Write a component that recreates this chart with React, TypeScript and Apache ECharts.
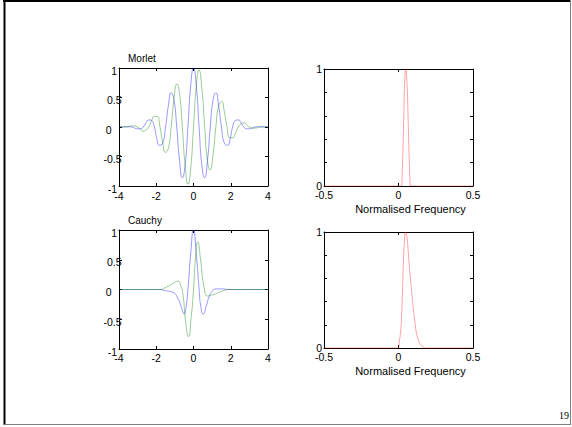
import React, { useEffect, useRef } from "react";
import * as echarts from "echarts";

// ---- Morlet wavelet (time domain) ----
const morletX = [-4, -3.6, -3.3, -3.15, -3.03, -2.85, -2.7, -2.55, -2.41, -2.25, -2.1, -1.98, -1.83, -1.65, -1.5, -1.35, -1.2, -1.05, -0.9, -0.75, -0.6, -0.45, -0.3, -0.15, 0, 0.15, 0.3, 0.45, 0.6, 0.75, 0.9, 1.05, 1.2, 1.35, 1.5, 1.65, 1.83, 1.98, 2.1, 2.25, 2.41, 2.55, 2.7, 2.85, 3.03, 3.15, 3.3, 3.6, 4];
const morletReal = [0, 0.005, 0, -0.02, -0.03, -0.03, 0, 0.07, 0.12, 0.11, 0, -0.18, -0.31, -0.27, 0, 0.36, 0.58, 0.46, 0, -0.57, -0.86, -0.65, 0, 0.7, 1, 0.7, 0, -0.65, -0.86, -0.57, 0, 0.46, 0.58, 0.36, 0, -0.27, -0.31, -0.18, 0, 0.11, 0.12, 0.07, 0, -0.03, -0.03, -0.02, 0, 0.005, 0];
const morletImagX = [-4, -3.6, -3.3, -3.0, -2.85, -2.7, -2.55, -2.4, -2.25, -2.1, -1.95, -1.8, -1.65, -1.51, -1.35, -1.2, -1.05, -0.89, -0.75, -0.6, -0.45, -0.29, -0.15, 0, 0.15, 0.29, 0.45, 0.6, 0.75, 0.89, 1.05, 1.2, 1.35, 1.51, 1.65, 1.8, 1.95, 2.1, 2.25, 2.4, 2.55, 2.7, 2.85, 3.0, 3.3, 3.6, 4];
const morletImag = [0, 0, 0.02, 0, -0.04, -0.07, -0.05, 0, 0.11, 0.18, 0.18, 0, -0.27, -0.43, -0.36, 0, 0.47, 0.73, 0.57, 0, -0.65, -0.97, -0.7, 0, 0.7, 0.97, 0.65, 0, -0.57, -0.73, -0.47, 0, 0.36, 0.43, 0.27, 0, -0.18, -0.18, -0.11, 0, 0.05, 0.07, 0.04, 0, -0.02, 0, 0];

// ---- Cauchy wavelet (time domain) ----
const cauchyRealX = [-4, -1.9, -1.5, -1.1, -0.85, -0.65, -0.5, -0.4, -0.3, -0.15, 0, 0.15, 0.3, 0.4, 0.52, 0.7, 0.85, 1.0, 1.2, 1.5, 1.9, 4];
const cauchyReal = [0, 0, -0.02, -0.05, -0.14, -0.3, -0.41, -0.3, 0, 0.6, 1, 0.6, 0, -0.3, -0.41, -0.26, -0.11, -0.03, 0.01, 0.01, 0, 0];
const cauchyImagX = [-4, -1.8, -1.45, -1.1, -0.84, -0.68, -0.56, -0.42, -0.27, -0.12, 0, 0.1, 0.23, 0.38, 0.59, 0.77, 1.0, 1.2, 1.6, 1.95, 4];
const cauchyImag = [0, 0, 0.04, 0.1, 0.14, 0.06, -0.1, -0.55, -0.79, -0.45, 0, 0.5, 0.8, 0.5, 0, -0.11, -0.09, -0.07, -0.02, 0, 0];

// ---- Spectra ----
const morletFreqX = [-0.5, 0.022, 0.03, 0.04, 0.046, 0.052, 0.06, 0.07, 0.078, 0.5];
const morletFreqY = [0, 0, 0.3, 0.85, 1, 1, 0.8, 0.3, 0, 0];
const cauchyFreqX = [-0.5, -0.003, 0.005, 0.015, 0.02, 0.026, 0.033, 0.04, 0.046, 0.052, 0.06, 0.07, 0.08, 0.09, 0.1, 0.115, 0.125, 0.137, 0.15, 0.164, 0.18, 0.5];
const cauchyFreqY = [0, 0, 0.05, 0.15, 0.25, 0.46, 0.75, 0.93, 1, 0.99, 0.92, 0.75, 0.6, 0.46, 0.33, 0.17, 0.1, 0.055, 0.025, 0.01, 0, 0];

const timeTicks = [-4, -2, 0, 2, 4];
const ampTicks = [-1, -0.5, 0, 0.5, 1];
const freqTicks = [-0.5, 0, 0.5];

const titles = ["Morlet", "Cauchy"];
const freqLabel = "Normalised Frequency";
const pageNumber = "19";

const FONT = "'Liberation Sans', Arial, sans-serif";
const BLUE = "rgba(0,0,255,0.5)";
const GREEN = "rgba(0,128,0,0.5)";
const RED = "rgba(255,0,0,0.45)";

const pairs = (xs: number[], ys: number[]) => xs.map((x, i) => [x, ys[i]]);

// label horizontal adjustments for the left plots (right padding in px)
const ampPad: Record<string, number> = { "1": 4.4, "0.5": 0, "0": 10, "-0.5": 0, "-1": 4.4 };

function makeAxes(gi: number, xr: [number, number, number], yr: [number, number, number], timeAxes: boolean, xMargin: number) {
  const tick = { show: true, inside: true, length: 3, lineStyle: { color: "#000", width: 1 } };
  const line = { show: true, onZero: false, lineStyle: { color: "#000", width: 1 } };
  const xa = (pos: string, labels: boolean) => ({
    type: "value", gridIndex: gi, position: pos, min: xr[0], max: xr[1], interval: xr[2],
    axisLine: line, axisTick: tick, splitLine: { show: false },
    axisLabel: { show: labels, margin: xMargin, fontSize: 10.5, color: "#000", fontFamily: FONT, showMinLabel: true, showMaxLabel: true },
  });
  const rich: Record<string, any> = {};
  Object.keys(ampPad).forEach((k, i) => {
    rich["p" + i] = { padding: [5, ampPad[k], 0, 0], fontSize: 10.5, fontFamily: FONT, color: "#000" };
  });
  const ya = (pos: string, labels: boolean) => ({
    type: "value", gridIndex: gi, position: pos, min: yr[0], max: yr[1], interval: yr[2],
    axisLine: line, axisTick: tick, splitLine: { show: false },
    axisLabel: timeAxes
      ? {
          show: labels, margin: -2.5, fontSize: 10.5, color: "#000", fontFamily: FONT,
          formatter: (v: number) => {
            const s = String(v);
            const idx = Object.keys(ampPad).indexOf(s);
            return idx >= 0 ? `{p${idx}|${s}}` : s;
          },
          rich,
        }
      : {
          show: labels, margin: 2, fontSize: 10.5, color: "#000", fontFamily: FONT,
          formatter: (v: number) => (Math.abs(v) < 1e-9 ? "0" : Math.abs(v - 1) < 1e-9 ? "1" : ""),
        },
  });
  return { x: [xa("bottom", true), xa("top", false)], y: [ya("left", true), ya("right", false)] };
}

export default function App() {
  const ref = useRef<HTMLDivElement>(null);
  useEffect(() => {
    if (!ref.current) return;
    const chart = echarts.init(ref.current, undefined, { renderer: "svg" });
    const grids = [
      { left: 119, top: 68, width: 149, height: 118 },
      { left: 324, top: 69, width: 149, height: 117 },
      { left: 119, top: 230, width: 149, height: 119 },
      { left: 324, top: 232, width: 149, height: 116 },
    ];
    const a0 = makeAxes(0, [timeTicks[0], timeTicks[timeTicks.length - 1], 2], [ampTicks[0], ampTicks[ampTicks.length - 1], 0.5], true, 4);
    const a1 = makeAxes(1, [freqTicks[0], freqTicks[freqTicks.length - 1], 0.5], [0, 1, 0.2], false, 3);
    const a2 = makeAxes(2, [timeTicks[0], timeTicks[timeTicks.length - 1], 2], [ampTicks[0], ampTicks[ampTicks.length - 1], 0.5], true, 3);
    const a3 = makeAxes(3, [freqTicks[0], freqTicks[freqTicks.length - 1], 0.5], [0, 1, 0.2], false, 3);
    const xAxis = [...a0.x, ...a1.x, ...a2.x, ...a3.x];
    const yAxis = [...a0.y, ...a1.y, ...a2.y, ...a3.y];
    const ser = (axis: number, data: number[][], color: string, smooth: number) => ({
      type: "line", xAxisIndex: axis * 2, yAxisIndex: axis * 2, data, symbol: "none", showSymbol: false,
      smooth, silent: true, lineStyle: { color, width: 0.8 },
    });
    const text = (t: string, x: number, y: number, size: number, align = "left", family = FONT) => ({
      type: "text", x, y, silent: true,
      style: { text: t, fill: "#000", font: `${size}px ${family}`, align, verticalAlign: "middle" },
    });
    chart.setOption({
      animation: false,
      backgroundColor: "#fff",
      grid: grids.map((g) => ({ ...g, containLabel: false, show: false })),
      xAxis,
      yAxis,
      series: [
        ser(0, pairs(morletX, morletReal), BLUE, 0.55),
        ser(0, pairs(morletImagX, morletImag), GREEN, 0.55),
        ser(1, pairs(morletFreqX, morletFreqY), RED, 0),
        ser(2, pairs(cauchyRealX, cauchyReal), BLUE, 0.6),
        ser(2, pairs(cauchyImagX, cauchyImag), GREEN, 0.6),
        ser(3, pairs(cauchyFreqX, cauchyFreqY), RED, 0.3),
      ],
      graphic: [
        text(titles[0], 128, 58.5, 10),
        text(titles[1], 128, 220.5, 10),
        text(freqLabel, 410.5, 208.8, 11, "center"),
        text(freqLabel, 410.5, 370.5, 11, "center"),
        text(pageNumber, 564, 415, 10, "center", "'Liberation Serif', 'Times New Roman', serif"),
        { type: "line", silent: true, shape: { x1: 3, y1: 1, x2: 571, y2: 1 }, style: { stroke: "#000", lineWidth: 2 } },
        { type: "line", silent: true, shape: { x1: 4.5, y1: 0, x2: 4.5, y2: 425 }, style: { stroke: "#000", lineWidth: 2 } },
        { type: "line", silent: true, shape: { x1: 4, y1: 424.5, x2: 571, y2: 424.5 }, style: { stroke: "#808080", lineWidth: 1 } },
        { type: "line", silent: true, shape: { x1: 570.5, y1: 0, x2: 570.5, y2: 425 }, style: { stroke: "#808080", lineWidth: 1 } },
      ],
    });
    return () => chart.dispose();
  }, []);
  return <div ref={ref} style={{ position: "absolute", left: 0, top: 0, width: 572, height: 427 }} />;
}
